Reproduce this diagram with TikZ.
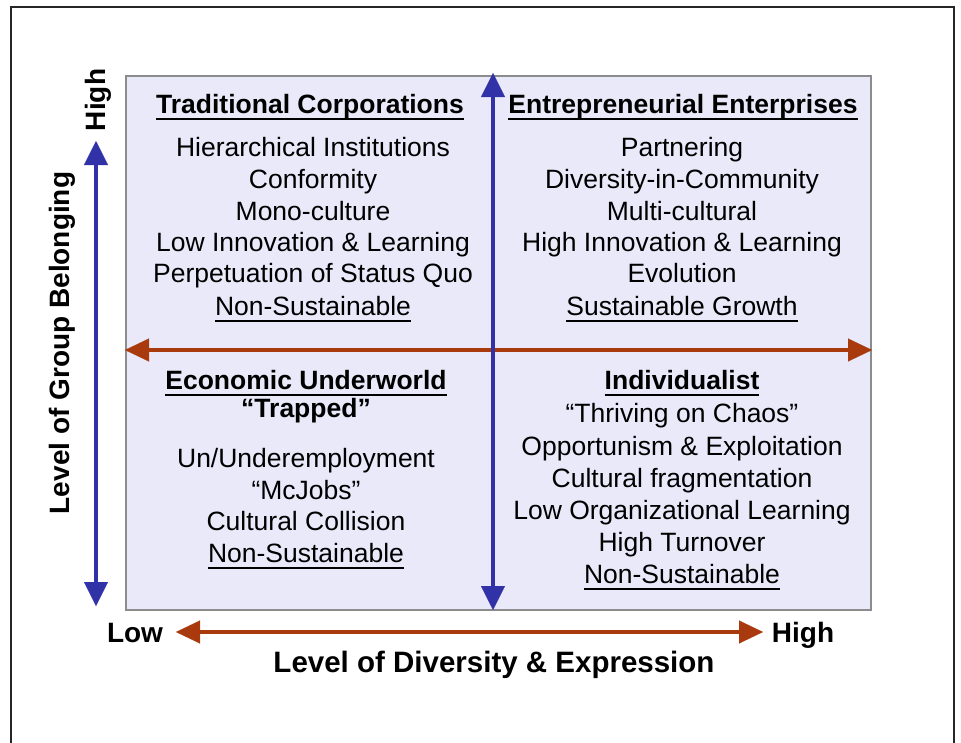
\documentclass[tikz,border=0pt]{standalone}
\usepackage{fontspec}
\setmainfont{Liberation Sans}
\usetikzlibrary{arrows.meta}
\definecolor{axblue}{RGB}{50,50,168}
\definecolor{axbrown}{RGB}{168,58,14}
\definecolor{boxfill}{RGB}{233,233,250}
\definecolor{boxline}{RGB}{140,140,140}
\newcommand\ulx[1]{\setbox0\hbox{#1}\rlap{\rule[-6pt]{\wd0}{1.8pt}}\box0}
\begin{document}
\begin{tikzpicture}[x=1pt,y=-1pt,
  item/.style={inner sep=0pt, anchor=base, font=\fontsize{26.5}{30}\selectfont},
  head/.style={inner sep=0pt, anchor=base, font=\fontsize{26.5}{30}\selectfont\bfseries},
  axlab/.style={inner sep=0pt, font=\fontsize{28}{32}\selectfont\bfseries},
  bluearrow/.style={draw=axblue, line width=4.5pt,
     {Triangle[length=24pt,width=24pt,line width=0.1pt]}-{Triangle[length=24pt,width=24pt,line width=0.1pt]}},
  brownarrow/.style={draw=axbrown, line width=4.5pt,
     {Triangle[length=24pt,width=23pt,line width=0.1pt]}-{Triangle[length=24pt,width=23pt,line width=0.1pt]}}
]
\useasboundingbox (0,0) rectangle (961,742);
\draw[line width=1.2pt, black!85] (11,760) -- (11,7) -- (954,7) -- (954,760);
\node (box) [draw=boxline, line width=1.5pt, fill=boxfill, inner sep=0pt,
  minimum width=745pt, minimum height=534pt, anchor=north west] at (125,75) {};
% inner arrows
\coordinate (vt) at (493,73);
\coordinate (vb) at (493,610);
\coordinate (hl) at (125,350);
\coordinate (hr) at (872,350);
\draw[brownarrow] (hl) -- (hr);
\draw[bluearrow] (vt) -- (vb);
% axes
\coordinate (lt) at (96,141);
\coordinate (lb) at (96,606);
\draw[bluearrow] (lt) -- (lb);
\coordinate (bl) at (176,632);
\coordinate (br) at (763,632);
\draw[brownarrow] (bl) -- (br);
\node[axlab, anchor=base] (low) at (135,642) {Low};
\node[axlab, anchor=base] (highx) at (803,642) {High};
\node[axlab, anchor=base, font=\fontsize{29.5}{32}\selectfont\bfseries] (xtitle) at (494,672) {Level of Diversity \& Expression};
\node[axlab, rotate=90] (highy) at (98,100) {High};
\node[axlab, rotate=90] (ytitle) at (62,343) {Level of Group Belonging};
% top left
\node[head] (tlh) at (310,113.5) {\ulx{Traditional Corporations}};
\node[item] (tl1) at (313,156.5) {Hierarchical Institutions};
\node[item] (tl2) at (313,188.5) {Conformity};
\node[item] (tl3) at (313,220.5) {Mono-culture};
\node[item] (tl4) at (313,251.5) {Low Innovation \& Learning};
\node[item] (tl5) at (313,282.5) {Perpetuation of Status Quo};
\node[item] (tl6) at (313,315.5) {\ulx{Non-Sustainable}};
% top right
\node[head] (trh) at (683,113.5) {\ulx{Entrepreneurial Enterprises}};
\node[item] (tr1) at (682,156.5) {Partnering};
\node[item] (tr2) at (682,188.5) {Diversity-in-Community};
\node[item] (tr3) at (682,220.5) {Multi-cultural};
\node[item] (tr4) at (682,251.5) {High Innovation \& Learning};
\node[item] (tr5) at (682,282.5) {Evolution};
\node[item] (tr6) at (682,315.5) {\ulx{Sustainable Growth}};
% bottom left
\node[head] (blh) at (306,389.5) {\ulx{Economic Underworld}};
\node[head] (bl0) at (306,417.5) {“Trapped”};
\node[item] (bl1) at (306,467.5) {Un/Underemployment};
\node[item] (bl2) at (306,499.5) {“McJobs”};
\node[item] (bl3) at (306,530.5) {Cultural Collision};
\node[item] (bl4) at (306,562.5) {\ulx{Non-Sustainable}};
% bottom right
\node[head] (brh) at (682,389.5) {\ulx{Individualist}};
\node[item] (br1) at (682,422.5) {“Thriving on Chaos”};
\node[item] (br2) at (682,455.5) {Opportunism \& Exploitation};
\node[item] (br3) at (682,487.5) {Cultural fragmentation};
\node[item] (br4) at (682,519.5) {Low Organizational Learning};
\node[item] (br5) at (682,551.5) {High Turnover};
\node[item] (br6) at (682,583.5) {\ulx{Non-Sustainable}};
\end{tikzpicture}
\end{document}
